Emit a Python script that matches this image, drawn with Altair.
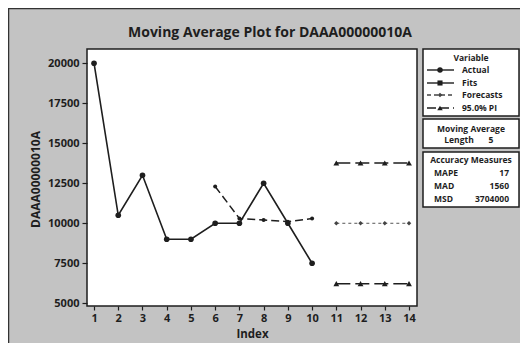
import altair as alt
import pandas as pd

# ---------------- data ----------------
index_actual = [1, 2, 3, 4, 5, 6, 7, 8, 9, 10]
actual = [20000, 10500, 13000, 9000, 9000, 10000, 10000, 12500, 10000, 7500]
fits_index = [6, 7, 8, 9, 10]
fits = [12300, 10300, 10200, 10100, 10300]
forecast_index = [11, 12, 13, 14]
forecasts = [10000, 10000, 10000, 10000]
upper_pi = [13772, 13772, 13772, 13772]
lower_pi = [6228, 6228, 6228, 6228]
x_ticks = [1, 2, 3, 4, 5, 6, 7, 8, 9, 10, 11, 12, 13, 14]
y_ticks = [5000, 7500, 10000, 12500, 15000, 17500, 20000]

title_text = "Moving Average Plot for DAAA00000010A"
y_title = "DAAA00000010A"
legend_title = "Variable"
legend_items = ["Actual", "Fits", "Forecasts", "95.0% PI"]
ma_title = "Moving Average"
ma_label, ma_value = "Length", "5"
acc_title = "Accuracy Measures"
acc_labels = ["MAPE", "MAD", "MSD"]
acc_values = ["17", "1560", "3704000"]

FONT = "Open Sans"
INK = "#1e1e1e"
W, H = 330, 257

df_act = pd.DataFrame({"Index": index_actual, "Value": actual})
df_fit = pd.DataFrame({"Index": fits_index, "Value": fits})
df_fc = pd.DataFrame({"Index": forecast_index, "Value": forecasts})
df_pi = pd.concat([
    pd.DataFrame({"Index": forecast_index, "Value": upper_pi, "band": "upper"}),
    pd.DataFrame({"Index": forecast_index, "Value": lower_pi, "band": "lower"}),
])

xenc = alt.X("Index:Q",
             scale=alt.Scale(domain=[0.71, 14.33], nice=False, zero=False),
             axis=alt.Axis(values=x_ticks, format="d", title="Index",
                           titleX=165, titleY=28, titleBaseline="middle",
                           titleAlign="center", tickSize=4, labelPadding=2))
yenc = alt.Y("Value:Q",
             scale=alt.Scale(domain=[4830, 20890], nice=False, zero=False),
             axis=alt.Axis(values=y_ticks, format="d", title=y_title,
                           titleX=-52, titleY=130, titleAngle=-90,
                           titleBaseline="middle", titleAlign="center",
                           titleFontSize=12,
                           tickSize=5, labelPadding=3))

layers = []

act_line = alt.Chart(df_act).mark_line(color=INK, strokeWidth=1.6).encode(x=xenc, y=yenc)
act_pts = alt.Chart(df_act).mark_point(filled=True, color=INK, size=32, opacity=1).encode(x=xenc, y=yenc)
fit_line = alt.Chart(df_fit).mark_line(color=INK, strokeWidth=1.5, strokeDash=[8, 4]).encode(x=xenc, y=yenc)
fit_pts = alt.Chart(df_fit).mark_point(filled=True, color=INK, size=16, opacity=1).encode(x=xenc, y=yenc)
fc_line = alt.Chart(df_fc).mark_line(color="#555555", strokeWidth=1.0, strokeDash=[3, 3]).encode(x=xenc, y=yenc)
fc_pts = alt.Chart(df_fc).mark_point(filled=True, color="#444444", size=20, shape="diamond", opacity=1).encode(x=xenc, y=yenc)
pi_line = alt.Chart(df_pi).mark_line(color=INK, strokeWidth=1.5, strokeDash=[14, 5]).encode(x=xenc, y=yenc, detail="band:N")
pi_pts = alt.Chart(df_pi).mark_point(filled=True, color=INK, size=34, shape="triangle-up", opacity=1).encode(x=xenc, y=yenc)

layers += [act_line, act_pts, fit_line, fit_pts, fc_line, fc_pts, pi_line, pi_pts]

one = pd.DataFrame({"k": [0]})

def text(s, x, y, size=8.5, align="center", weight="bold"):
    return alt.Chart(one).mark_text(text=s, font=FONT, fontSize=size, fontWeight=weight,
                                    color=INK, align=align, baseline="middle").encode(
        x=alt.value(x), y=alt.value(y))

def box(x1, y1, x2, y2):
    return alt.Chart(one).mark_rect(fill="white", stroke=INK, strokeWidth=1.5).encode(
        x=alt.value(x1), x2=alt.value(x2), y=alt.value(y1), y2=alt.value(y2))

def hrule(x1, x2, y, dash=None, width=1.5, color=INK):
    kw = dict(color=color, strokeWidth=width)
    if dash:
        kw["strokeDash"] = dash
    return alt.Chart(one).mark_rule(**kw).encode(x=alt.value(x1), x2=alt.value(x2), y=alt.value(y))

def sym(x, y, shape, size, color=INK):
    return alt.Chart(one).mark_point(filled=True, color=color, shape=shape, size=size, opacity=1).encode(
        x=alt.value(x), y=alt.value(y))

# outer frame lines (left + top)
layers.append(alt.Chart(one).mark_rule(color="#333333", strokeWidth=1.5).encode(
    x=alt.value(-78.5), y=alt.value(-41), y2=alt.value(295)))
layers.append(alt.Chart(one).mark_rule(color="#333333", strokeWidth=1.5).encode(
    x=alt.value(-79), x2=alt.value(434), y=alt.value(-40.5)))

# title
layers.append(text(title_text, 183, -16, size=14))

# legend boxes
layers += [box(336, 0, 432, 67), box(336, 70, 432, 99), box(336, 103, 432, 158)]
layers.append(text(legend_title, 384, 9))
rows_y = [21, 34, 46, 59]
styles = [
    (None, "circle", 30, INK),
    (None, "square", 26, INK),
    ([4, 3], "diamond", 22, "#444444"),
    ([9, 4], "triangle-up", 30, INK),
]
for label, yy, (dash, shape, sz, col) in zip(legend_items, rows_y, styles):
    layers.append(hrule(340, 367, yy, dash=dash, width=1.4, color=col))
    layers.append(sym(353, yy, shape, sz, col))
    layers.append(text(label, 375, yy, align="left"))

layers.append(text(ma_title, 384, 80))
layers.append(text(ma_label, 372, 91))
layers.append(text(ma_value, 404, 91))

layers.append(text(acc_title, 384, 111))
for lab, val, yy in zip(acc_labels, acc_values, [124, 137, 150]):
    layers.append(text(lab, 347, yy, align="left"))
    layers.append(text(val, 422, yy, align="right"))

chart = alt.layer(*layers).properties(
    width=W, height=H,
    autosize=alt.AutoSizeParams(type="none"),
    padding={"left": 79, "top": 41, "right": 103, "bottom": 37},
    background="#c3c3c3",
).configure_view(
    fill="white", stroke=INK, strokeWidth=1.5
).configure_axis(
    grid=False, domain=False, tickColor=INK, tickWidth=1.2,
    labelFont=FONT, labelFontSize=11, labelFontWeight="bold", labelColor=INK,
    titleFont=FONT, titleFontSize=11.5, titleFontWeight="bold", titleColor=INK,
)

chart.save("out.html", embed_options={"renderer": "svg", "actions": False})
